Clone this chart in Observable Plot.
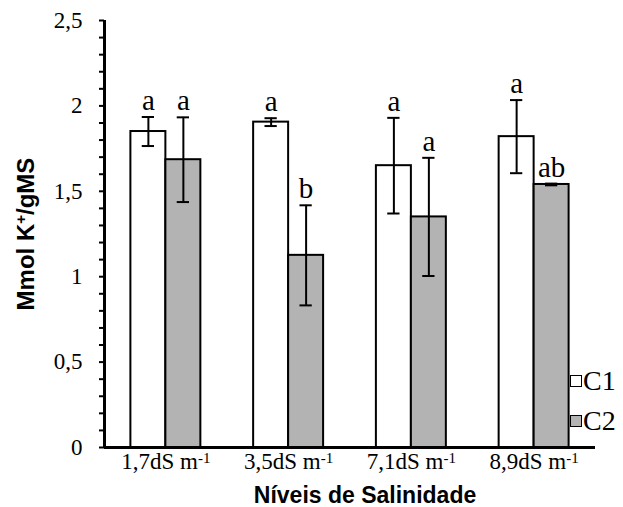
<!DOCTYPE html>
<html><head><meta charset="utf-8">
<script src="https://cdn.jsdelivr.net/npm/d3@7"></script>
<script src="https://cdn.jsdelivr.net/npm/@observablehq/plot@0.6"></script>
<style>
html,body{margin:0;padding:0;background:#fff;}
#wrap{position:relative;width:623px;height:507px;overflow:hidden;}
#wrap svg{display:block;}
g[aria-label="y-axis tick label"] text, g[aria-label="x-axis tick label"] text{font-family:"Liberation Serif","Times New Roman",serif !important;font-variant:normal !important;}
g[aria-label="y-axis label"] text{font-family:"Liberation Sans",Arial,sans-serif;font-weight:bold;font-size:24px;}
.legend{position:absolute;left:570px;top:361px;font:28px "Liberation Serif",serif;color:#000;}
.legend .row{display:flex;align-items:center;height:40px;}
.legend .sw{display:inline-block;width:10px;height:10px;border:1px solid #000;margin-right:1px;}
</style></head><body><div id="wrap"></div>
<script>
// ---- data ----
const categories = ["1,7dS m-1", "3,5dS m-1", "7,1dS m-1", "8,9dS m-1"];
const seriesNames = ["C1", "C2"];
const c1Values = [1.85, 1.905, 1.65, 1.82];
const c2Values = [1.685, 1.125, 1.35, 1.54];
const c1Errors = [0.085, 0.023, 0.28, 0.214];
const c2Errors = [0.248, 0.293, 0.346, 0.005];
const c1Letters = ["a", "a", "a", "a"];
const c2Letters = ["a", "b", "a", "ab"];
const yTicks = [0, 0.5, 1, 1.5, 2, 2.5];
const yTickLabels = ["0", "0,5", "1", "1,5", "2", "2,5"];
const yMinorTicks = d3.range(0, 26).map(k => k / 10);
const seriesColors = ["#ffffff", "#b3b3b3"];
const xTitle = "Níveis de Salinidade";
const yTitle = "Mmol K+/gMS";

const serif = '"Liberation Serif", "Times New Roman", serif';
const sans = '"Liberation Sans", Arial, sans-serif';

// ---- build table ----
const barW = 0.285;      // fraction of a group occupied by one bar
const capHalf = 0.05;    // half width of error-bar caps, in group units
const rows = [];
categories.forEach((c, i) => {
  rows.push({i, cat: c, series: "C1", v: c1Values[i], e: c1Errors[i], lab: c1Letters[i], x1: i - barW, x2: i, xc: i - barW / 2});
  rows.push({i, cat: c, series: "C2", v: c2Values[i], e: c2Errors[i], lab: c2Letters[i], x1: i, x2: i + barW, xc: i + barW / 2});
});
const xDomain = [-0.5, categories.length - 0.5];

const chart = Plot.plot({
  width: 623,
  height: 507,
  marginLeft: 104,
  marginRight: 28,
  marginTop: 20,
  marginBottom: 60,
  style: {fontFamily: serif, fontSize: "23px", color: "#000", background: "#fff"},
  x: {domain: xDomain, axis: null},
  y: {domain: [0, 2.5], axis: null},
  color: {domain: seriesNames, range: seriesColors},
  marks: [
    Plot.rectY(rows, {x1: "x1", x2: "x2", y: "v", fill: "series", stroke: "#000", strokeWidth: 2}),
    Plot.ruleX(rows, {x: "xc", y1: d => d.v - d.e, y2: d => d.v + d.e, stroke: "#000", strokeWidth: 2}),
    Plot.ruleY(rows, {y: d => d.v + d.e, x1: d => d.xc - capHalf, x2: d => d.xc + capHalf, stroke: "#000", strokeWidth: 2}),
    Plot.ruleY(rows, {y: d => d.v - d.e, x1: d => d.xc - capHalf, x2: d => d.xc + capHalf, stroke: "#000", strokeWidth: 2}),
    Plot.text(rows, {x: "xc", y: d => d.v + d.e, text: "lab", dy: -7, lineAnchor: "bottom", textAnchor: "middle",
      fontFamily: serif, fontSize: 29, fill: "#000"}),
    Plot.axisY({ticks: yMinorTicks, tickFormat: () => "", tickSize: 5, strokeWidth: 2, label: null}),
    Plot.axisY({ticks: yTicks, tickFormat: d => yTickLabels[yTicks.indexOf(d)], tickSize: 0, tickPadding: 22,
      fontFamily: serif, fontSize: 23,
      label: yTitle, labelAnchor: "center", labelOffset: 88, labelArrow: "none"}),
    Plot.axisX({ticks: d3.range(categories.length), tickFormat: i => categories[i], tickSize: 0, tickPadding: 5,
      fontFamily: serif, fontSize: 23, label: null}),
    Plot.text([xTitle], {text: d => d, frameAnchor: "bottom", dy: 55, dx: 15, lineAnchor: "bottom", textAnchor: "middle",
      fontFamily: sans, fontWeight: "bold", fontSize: 23, fill: "#000"}),
    Plot.ruleY([0], {stroke: "#000", strokeWidth: 3}),
    Plot.ruleX([xDomain[0]], {stroke: "#000", strokeWidth: 3})
  ]
});

const wrap = document.getElementById("wrap");
wrap.appendChild(chart);

// superscripts in x tick labels
d3.select(chart).selectAll('g[aria-label="x-axis tick label"] text').each(function() {
  const t = this.textContent;
  const m = t.match(/^(.*m)(-1)$/);
  if (m) {
    const sel = d3.select(this);
    sel.text(m[1]);
    sel.append("tspan").attr("dy", "-0.38em").attr("font-size", "15px").text(m[2]);
  }
});
// superscript in y label
d3.select(chart).selectAll('g[aria-label="y-axis label"] text').each(function() {
  const t = this.textContent.replace(/[↑↓]/g, "").trim();
  const m = t.match(/^(.*K)\+(.*)$/);
  if (m) {
    const sel = d3.select(this);
    sel.text(m[1]);
    sel.append("tspan").attr("dy", "-8").attr("font-size", "15px").text("+");
    sel.append("tspan").attr("dy", "8").text(m[2]);
  }
});

// legend
const legend = document.createElement("div");
legend.className = "legend";
seriesNames.forEach((s, k) => {
  const row = document.createElement("div");
  row.className = "row";
  const sw = document.createElement("span");
  sw.className = "sw";
  sw.style.background = seriesColors[k];
  row.appendChild(sw);
  row.appendChild(document.createTextNode(s));
  legend.appendChild(row);
});
wrap.appendChild(legend);
</script>
</body></html>
